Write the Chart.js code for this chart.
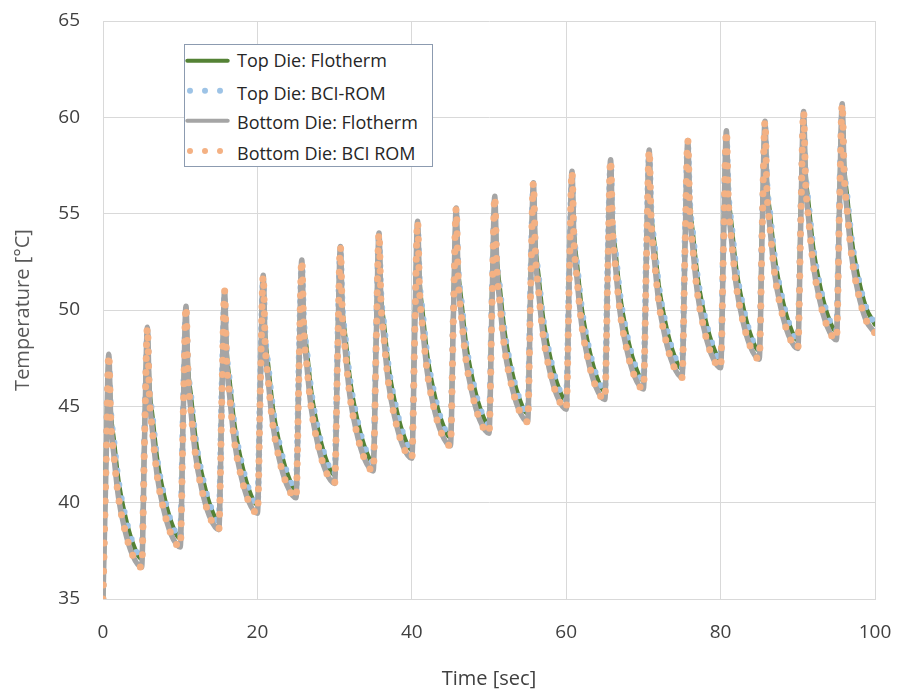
<!DOCTYPE html>
<html><head><meta charset="utf-8">
<script src="https://cdn.jsdelivr.net/npm/chart.js@4/dist/chart.umd.min.js"></script>
<style>
html,body{margin:0;padding:0;background:#fff;}
#wrap{position:relative;width:898px;height:689px;}
#legend{position:absolute;left:184px;top:44px;width:249px;height:123px;box-sizing:border-box;border:1px solid #8c9bb0;background:#fff;font-family:'Open Sans',sans-serif;font-size:18px;color:#262626;}
#legend .row{position:absolute;left:52px;white-space:nowrap;line-height:24px;}
#legend svg{position:absolute;left:0;top:0;}
</style></head><body>
<div id="wrap"><canvas id="c" width="898" height="689"></canvas><div id="legend"></div></div>
<script>
// Time axis [sec]
const timeSec = [
0,0.4,0.75,1,1.4,2,2.8,3.8,
5,5.4,5.75,6,6.4,7,7.8,8.8,
10,10.4,10.75,11,11.4,12,12.8,13.8,
15,15.4,15.75,16,16.4,17,17.8,18.8,
20,20.4,20.75,21,21.4,22,22.8,23.8,
25,25.4,25.75,26,26.4,27,27.8,28.8,
30,30.4,30.75,31,31.4,32,32.8,33.8,
35,35.4,35.75,36,36.4,37,37.8,38.8,
40,40.4,40.75,41,41.4,42,42.8,43.8,
45,45.4,45.75,46,46.4,47,47.8,48.8,
50,50.4,50.75,51,51.4,52,52.8,53.8,
55,55.4,55.75,56,56.4,57,57.8,58.8,
60,60.4,60.75,61,61.4,62,62.8,63.8,
65,65.4,65.75,66,66.4,67,67.8,68.8,
70,70.4,70.75,71,71.4,72,72.8,73.8,
75,75.4,75.75,76,76.4,77,77.8,78.8,
80,80.4,80.75,81,81.4,82,82.8,83.8,
85,85.4,85.75,86,86.4,87,87.8,88.8,
90,90.4,90.75,91,91.4,92,92.8,93.8,
95,95.4,95.75,96,96.4,97,97.8,98.8,
100];

const topDieFlotherm = [
35.0,42.61,47.4,44.79,43.26,41.15,39.44,37.96,
37.10,44.12,48.8,46.08,44.49,42.31,40.55,39.03,
38.15,45.20,49.9,47.12,45.50,43.28,41.49,39.95,
39.05,46.04,50.7,47.94,46.32,44.11,42.33,40.79,
39.90,46.87,51.5,48.74,47.12,44.91,43.13,41.59,
40.70,47.67,52.3,49.52,47.90,45.68,43.89,42.35,
41.45,48.39,53.0,50.21,48.57,46.34,44.55,43.00,
42.10,49.07,53.7,50.89,49.25,47.01,45.21,43.65,
42.75,49.69,54.3,51.51,49.87,47.64,45.85,44.30,
43.40,50.37,55.0,52.19,50.55,48.31,46.51,44.95,
44.05,50.99,55.6,52.79,51.15,48.91,47.11,45.55,
44.65,51.64,56.3,53.48,51.83,49.58,47.77,46.21,
45.30,52.27,56.9,54.05,52.38,50.11,48.28,46.71,
45.80,52.82,57.5,54.63,52.96,50.68,48.84,47.26,
46.35,53.34,58.0,55.16,53.50,51.24,49.42,47.86,
46.95,53.89,58.5,55.66,54.00,51.74,49.92,48.36,
47.45,54.39,59.0,56.15,54.48,52.21,50.38,48.81,
47.90,54.87,59.5,56.66,55.00,52.74,50.92,49.36,
48.45,55.39,60.0,57.15,55.48,53.21,51.38,49.81,
48.90,55.81,60.4,57.53,55.86,53.58,51.74,50.16,
49.25];

const topDieBciRom = [
35.0,42.61,47.4,44.79,43.26,41.15,39.44,37.96,
37.10,44.12,48.8,46.08,44.49,42.31,40.55,39.03,
38.15,45.20,49.9,47.12,45.50,43.28,41.49,39.95,
39.05,46.04,50.7,47.94,46.32,44.11,42.33,40.79,
39.90,46.87,51.5,48.74,47.12,44.91,43.13,41.59,
40.70,47.67,52.3,49.52,47.90,45.68,43.89,42.35,
41.45,48.39,53.0,50.21,48.57,46.34,44.55,43.00,
42.10,49.07,53.7,50.89,49.25,47.01,45.21,43.65,
42.75,49.69,54.3,51.51,49.87,47.64,45.85,44.30,
43.40,50.37,55.0,52.19,50.55,48.31,46.51,44.95,
44.05,50.99,55.6,52.79,51.15,48.91,47.11,45.55,
44.65,51.64,56.3,53.48,51.83,49.58,47.77,46.21,
45.30,52.27,56.9,54.05,52.38,50.11,48.28,46.71,
45.80,52.82,57.5,54.63,52.96,50.68,48.84,47.26,
46.35,53.34,58.0,55.16,53.50,51.24,49.42,47.86,
46.95,53.89,58.5,55.66,54.00,51.74,49.92,48.36,
47.45,54.39,59.0,56.15,54.48,52.21,50.38,48.81,
47.90,54.87,59.5,56.66,55.00,52.74,50.92,49.36,
48.45,55.39,60.0,57.15,55.48,53.21,51.38,49.81,
48.90,55.81,60.4,57.53,55.86,53.58,51.74,50.16,
49.25];

const bottomDieFlotherm = [
35,42.11,47.7,44.39,42.51,40.30,38.64,37.31,
36.65,43.62,49.1,45.68,43.74,41.46,39.75,38.38,
37.7,44.70,50.2,46.72,44.75,42.43,40.69,39.30,
38.6,45.54,51.0,47.54,45.57,43.26,41.53,40.14,
39.45,46.37,51.8,48.34,46.37,44.06,42.33,40.94,
40.25,47.17,52.6,49.12,47.15,44.83,43.09,41.70,
41.0,47.89,53.3,49.81,47.82,45.49,43.75,42.35,
41.65,48.57,54.0,50.49,48.50,46.16,44.41,43.00,
42.3,49.19,54.6,51.11,49.12,46.79,45.05,43.65,
42.95,49.87,55.3,51.79,49.80,47.46,45.71,44.30,
43.6,50.49,55.9,52.39,50.40,48.06,46.31,44.90,
44.2,51.14,56.6,53.08,51.08,48.73,46.97,45.56,
44.85,51.77,57.2,53.65,51.63,49.26,47.48,46.06,
45.35,52.32,57.8,54.23,52.21,49.83,48.04,46.61,
45.9,52.84,58.3,54.76,52.75,50.39,48.62,47.21,
46.5,53.39,58.8,55.26,53.25,50.89,49.12,47.71,
47.0,53.89,59.3,55.75,53.73,51.36,49.58,48.16,
47.45,54.37,59.8,56.26,54.25,51.89,50.12,48.71,
48.0,54.89,60.3,56.75,54.73,52.36,50.58,49.16,
48.45,55.31,60.7,57.13,55.11,52.73,50.94,49.51,
48.8];

const bottomDieBciRom = [
35,42.11,47.7,44.39,42.51,40.30,38.64,37.31,
36.65,43.62,49.1,45.68,43.74,41.46,39.75,38.38,
37.7,44.70,50.2,46.72,44.75,42.43,40.69,39.30,
38.6,45.54,51.0,47.54,45.57,43.26,41.53,40.14,
39.45,46.37,51.8,48.34,46.37,44.06,42.33,40.94,
40.25,47.17,52.6,49.12,47.15,44.83,43.09,41.70,
41.0,47.89,53.3,49.81,47.82,45.49,43.75,42.35,
41.65,48.57,54.0,50.49,48.50,46.16,44.41,43.00,
42.3,49.19,54.6,51.11,49.12,46.79,45.05,43.65,
42.95,49.87,55.3,51.79,49.80,47.46,45.71,44.30,
43.6,50.49,55.9,52.39,50.40,48.06,46.31,44.90,
44.2,51.14,56.6,53.08,51.08,48.73,46.97,45.56,
44.85,51.77,57.2,53.65,51.63,49.26,47.48,46.06,
45.35,52.32,57.8,54.23,52.21,49.83,48.04,46.61,
45.9,52.84,58.3,54.76,52.75,50.39,48.62,47.21,
46.5,53.39,58.8,55.26,53.25,50.89,49.12,47.71,
47.0,53.89,59.3,55.75,53.73,51.36,49.58,48.16,
47.45,54.37,59.8,56.26,54.25,51.89,50.12,48.71,
48.0,54.89,60.3,56.75,54.73,52.36,50.58,49.16,
48.45,55.31,60.7,57.13,55.11,52.73,50.94,49.51,
48.8];

const seriesNames = ['Top Die: Flotherm', 'Top Die: BCI-ROM', 'Bottom Die: Flotherm', 'Bottom Die: BCI ROM'];
const seriesColors = ['#548235', '#9dc3e6', '#a5a5a5', '#f4b183'];
const xAxisTitle = 'Time [sec]';
const yAxisTitle = 'Temperature [°C]';
const xRange = [0, 100, 20];
const yRange = [35, 65, 5];

const toPts = ys => timeSec.map((t, i) => ({x: t, y: ys[i]}));
const seriesValues = [topDieFlotherm, topDieBciRom, bottomDieFlotherm, bottomDieBciRom];
const dotted = [false, true, false, true];
const widths = [4.5, 6.5, 5.5, 7];
const orders = [4, 3, 2, 1];

const datasets = seriesValues.map((vals, i) => ({
  label: seriesNames[i],
  data: toPts(vals),
  borderColor: seriesColors[i],
  backgroundColor: seriesColors[i],
  borderWidth: widths[i],
  borderDash: dotted[i] ? [0, 14] : [],
  borderCapStyle: 'round',
  borderJoinStyle: 'round',
  cubicInterpolationMode: 'monotone',
  pointRadius: 0,
  fill: false,
  order: orders[i]
}));

const tickFont = {family: "'Open Sans', sans-serif", size: 19};
const gridColor = '#d9d9d9';

new Chart(document.getElementById('c'), {
  type: 'line',
  data: {datasets},
  options: {
    responsive: false,
    animation: false,
    layout: {padding: {top: 21, right: 23, left: 0, bottom: 0}},
    plugins: {legend: {display: false}, tooltip: {enabled: false}},
    scales: {
      x: {
        type: 'linear', min: xRange[0], max: xRange[1],
        ticks: {stepSize: xRange[2], font: tickFont, color: '#404040', padding: 3, maxRotation: 0},
        grid: {color: gridColor, drawTicks: true, tickLength: 19, tickColor: 'rgba(0,0,0,0)', lineWidth: 1},
        border: {display: true, color: gridColor},
        title: {display: true, text: xAxisTitle, color: '#404040', font: {family: "'Open Sans', sans-serif", size: 20}, padding: {top: 0, bottom: -2}},
        afterFit: s => { s.height = 90; }
      },
      y: {
        type: 'linear', min: yRange[0], max: yRange[1],
        ticks: {stepSize: yRange[2], font: tickFont, color: '#404040', padding: 3},
        grid: {color: gridColor, drawTicks: true, tickLength: 20, tickColor: 'rgba(0,0,0,0)', lineWidth: 1},
        border: {display: true, color: gridColor},
        title: {display: true, text: yAxisTitle, color: '#595959', font: {family: "'Open Sans', sans-serif", size: 20}, padding: {top: 11, bottom: 0}},
        afterFit: s => { s.width = 103; }
      }
    }
  }
});

// Legend (HTML)
const legendRowTops = [3.2, 35.8, 64.5, 96.2];
const sampleY = [15.7, 45.7, 75.7, 106];
const lg = document.getElementById('legend');
let svg = '<svg width="247" height="121" xmlns="http://www.w3.org/2000/svg">';
seriesNames.forEach((n, i) => {
  if (dotted[i]) {
    [5, 20, 35].forEach(cx => { svg += `<circle cx="${cx}" cy="${sampleY[i]}" r="3" fill="${seriesColors[i]}"/>`; });
  } else {
    svg += `<line x1="2.3" y1="${sampleY[i]}" x2="42.7" y2="${sampleY[i]}" stroke="${seriesColors[i]}" stroke-width="4" stroke-linecap="round"/>`;
  }
});
svg += '</svg>';
lg.innerHTML = svg + seriesNames.map((n, i) => `<div class="row" style="top:${legendRowTops[i]}px">${n}</div>`).join('');
</script>
</body></html>
